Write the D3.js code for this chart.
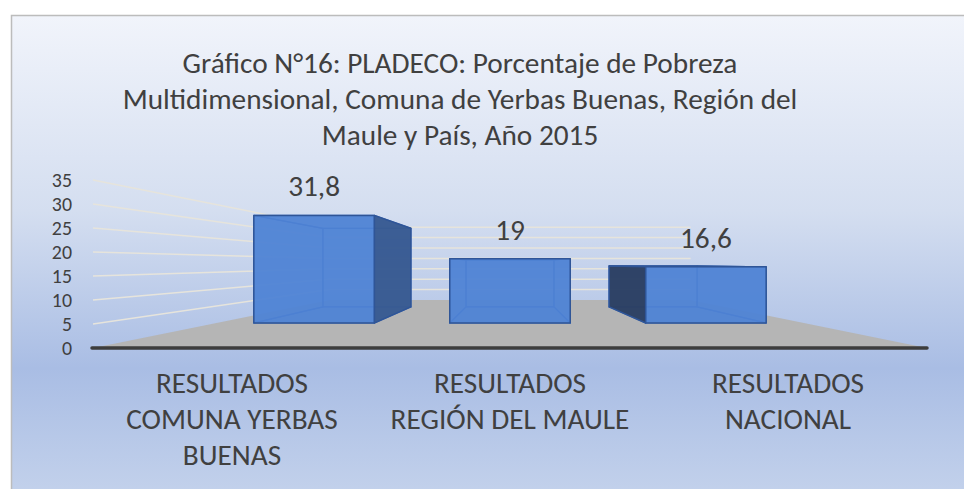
<!DOCTYPE html>
<html>
<head>
<meta charset="utf-8">
<script src="https://cdnjs.cloudflare.com/ajax/libs/d3/7.8.5/d3.min.js"></script>
<style>
  body { margin: 0; background: #ffffff; }
  svg { display: block; }
</style>
</head>
<body>
<script>
// data
var categories = ["RESULTADOS COMUNA YERBAS BUENAS", "RESULTADOS REGIÓN DEL MAULE", "RESULTADOS NACIONAL"];
var categoryLines = [["RESULTADOS", "COMUNA YERBAS", "BUENAS"], ["RESULTADOS", "REGIÓN DEL MAULE"], ["RESULTADOS", "NACIONAL"]];
var values = [31.8, 19, 16.6];
var valueLabels = ["31,8", "19", "16,6"];
var yTicks = [0, 5, 10, 15, 20, 25, 30, 35];
var titleLines = [
  "Gráfico N°16: PLADECO: Porcentaje de Pobreza",
  "Multidimensional, Comuna de Yerbas Buenas, Región del",
  "Maule y País, Año 2015"
];

var FONT = "Calibri, Carlito, Lato, 'Open Sans', sans-serif";
var width = 964, height = 489;

var svg = d3.select("body").append("svg").attr("width", width).attr("height", height);

// fit the font so the long title line has the width it has in the picture
var probe = svg.append("text").style("font-family", FONT).style("font-size", "28px").text(titleLines[1]);
var fk = 675 / probe.node().getComputedTextLength();
probe.remove();
var bigSize = 28 * fk;
var tickSize = 19 * fk;

// background gradient + border
var defs = svg.append("defs");
var grad = defs.append("linearGradient").attr("id", "bg").attr("x1", 0).attr("y1", 0).attr("x2", 0).attr("y2", 1);
grad.append("stop").attr("offset", "0%").attr("stop-color", "#f1f4fb");
grad.append("stop").attr("offset", "40%").attr("stop-color", "#d4def0");
grad.append("stop").attr("offset", "72%").attr("stop-color", "#a9bde4");
grad.append("stop").attr("offset", "100%").attr("stop-color", "#c5d3ec");

svg.append("rect")
  .attr("x", 11.5).attr("y", 15.5)
  .attr("width", 970).attr("height", 490)
  .attr("fill", "url(#bg)")
  .attr("stroke", "#bcbcbc").attr("stroke-width", 1.5);

// front plane scales
var x = d3.scaleBand().domain(categories).range([93, 927]).paddingInner(0.385).paddingOuter(0.1925);
var y = d3.scaleLinear().domain([0, 35]).range([348, 180]);

// simple perspective: eye point and depth distance
var vpx = 510, vpy = 263.3, dist = 0.764;
var z0 = 0.32, z1 = 0.72;

function project(X, Y, z) {
  var k = dist / (dist + z);
  return [vpx + (X - vpx) * k, vpy + (Y - vpy) * k];
}

var line = d3.line();
var left = x.range()[0], right = x.range()[1];

// gridlines on the side wall and back wall
var grid = svg.append("g");
yTicks.filter(function(d) { return d > 0; }).forEach(function(v) {
  var a = project(left, y(v), 0), b = project(left, y(v), 1), c = project(right, y(v), 1);
  grid.append("path")
    .attr("d", line([a, b, c]))
    .attr("fill", "none")
    .attr("stroke", "#e6e4dc")
    .attr("stroke-width", 1.5);
});

// floor
svg.append("path")
  .attr("d", line([project(left, y(0), 0), project(right, y(0), 0), project(right, y(0), 1), project(left, y(0), 1)]) + "Z")
  .attr("fill", "#b5b5b5");

// bars as boxes
var barG = svg.append("g");
values.forEach(function(v, i) {
  var X0 = x(categories[i]), X1 = X0 + x.bandwidth();
  var Yb = y(0), Yt = y(v);
  function P(X, Y, z) { return project(X, Y, z); }

  var faces = {
    back:   [P(X0, Yb, z1), P(X1, Yb, z1), P(X1, Yt, z1), P(X0, Yt, z1)],
    bottom: [P(X0, Yb, z0), P(X1, Yb, z0), P(X1, Yb, z1), P(X0, Yb, z1)],
    left:   [P(X0, Yb, z0), P(X0, Yt, z0), P(X0, Yt, z1), P(X0, Yb, z1)],
    right:  [P(X1, Yb, z0), P(X1, Yt, z0), P(X1, Yt, z1), P(X1, Yb, z1)],
    top:    [P(X0, Yt, z0), P(X1, Yt, z0), P(X1, Yt, z1), P(X0, Yt, z1)],
    front:  [P(X0, Yb, z0), P(X1, Yb, z0), P(X1, Yt, z0), P(X0, Yt, z0)]
  };

  var leftVisible = X0 > vpx;
  var rightVisible = X1 < vpx;
  var topVisible = Yt > vpy;

  function face(pts, fill, op, stroke, sw) {
    barG.append("path")
      .attr("d", line(pts) + "Z")
      .attr("fill", fill)
      .attr("fill-opacity", op)
      .attr("stroke", stroke)
      .attr("stroke-width", sw)
      .attr("stroke-linejoin", "round");
  }

  // hidden faces first
  face(faces.back, "#4b7dd0", 0.75, "#3f6fc2", 1.2);
  face(faces.bottom, "#4b7dd0", 0.75, "#3f6fc2", 1.2);
  if (!leftVisible) face(faces.left, "#4b7dd0", 0.75, "#3f6fc2", 1.2);
  if (!rightVisible) face(faces.right, "#4b7dd0", 0.75, "#3f6fc2", 1.2);
  if (!topVisible) face(faces.top, "#4b7dd0", 0.75, "#3f6fc2", 1.2);

  // visible faces
  if (topVisible) face(faces.top, "#5a8ad8", 0.95, "#2f5597", 1.2);
  if (leftVisible) face(faces.left, "#2b3d5f", 0.93, "#2f5597", 1.5);
  if (rightVisible) face(faces.right, "#38598f", 0.93, "#2f5597", 1.5);
  face(faces.front, "#5085d6", 0.8, "#2f5597", 1.5);

  // value label above the front top edge
  var lp = P(X0 + x.bandwidth() / 2, Yt, z0);
  svg.append("text")
    .attr("x", lp[0])
    .attr("y", lp[1] - 19)
    .attr("text-anchor", "middle")
    .style("font-family", FONT)
    .style("font-size", bigSize + "px")
    .style("fill", "#404040")
    .text(valueLabels[i]);
});

// thick front edge of the floor
svg.append("line")
  .attr("x1", left - 1).attr("x2", right)
  .attr("y1", y(0)).attr("y2", y(0))
  .attr("stroke", "#3d3d3d")
  .attr("stroke-width", 3.5)
  .attr("stroke-linecap", "round");

// y axis labels
var yAxis = svg.append("g")
  .attr("transform", "translate(" + left + ",0)")
  .call(d3.axisLeft(y).tickValues(yTicks).tickSize(0).tickPadding(21));
yAxis.select(".domain").remove();
yAxis.selectAll("text")
  .style("font-family", FONT)
  .style("font-size", tickSize + "px")
  .style("fill", "#404040");

// category labels
var catG = svg.append("g");
categories.forEach(function(c, i) {
  var cx = x(c) + x.bandwidth() / 2;
  var t = catG.append("text")
    .attr("text-anchor", "middle")
    .style("font-family", FONT)
    .style("font-size", bigSize + "px")
    .style("fill", "#404040");
  categoryLines[i].forEach(function(s, j) {
    t.append("tspan").attr("x", cx).attr("y", 393 + j * 36).text(s);
  });
});

// title
var title = svg.append("text")
  .attr("text-anchor", "middle")
  .style("font-family", FONT)
  .style("font-size", bigSize + "px")
  .style("fill", "#404040");
titleLines.forEach(function(s, j) {
  title.append("tspan").attr("x", 460).attr("y", 73 + j * 36).text(s);
});
</script>
</body>
</html>
